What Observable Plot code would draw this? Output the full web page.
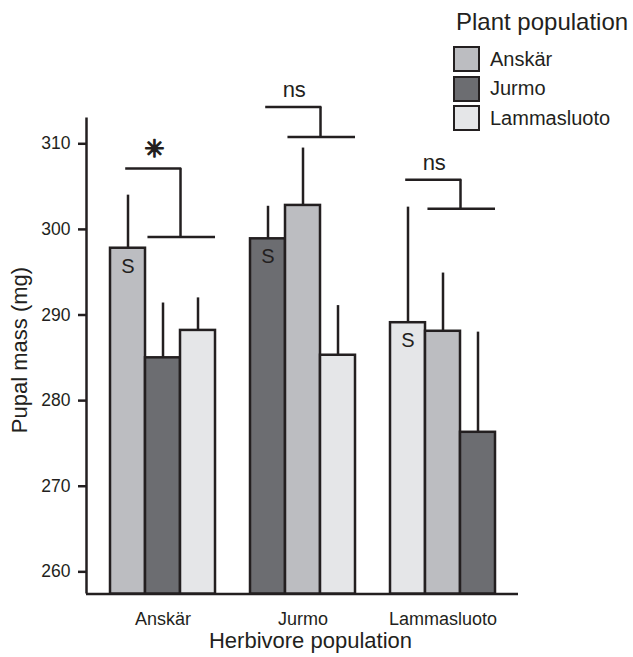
<!DOCTYPE html>
<html>
<head>
<meta charset="utf-8">
<script src="https://cdn.jsdelivr.net/npm/d3@7"></script>
<script src="https://cdn.jsdelivr.net/npm/@observablehq/plot@0.6"></script>
<style>
  html, body { margin: 0; padding: 0; background: #fff; }
  #wrap { position: relative; width: 633px; height: 657px; font-family: "Liberation Sans", Arial, sans-serif; color: #231f20; }
  #chart { position: absolute; left: 0; top: 0; }
  .ttl { position: absolute; white-space: nowrap; font-size: 22px; line-height: 22px; }
  #ytitle { left: -130px; top: 339px; width: 300px; text-align: center; transform: rotate(-90deg); }
  #xtitle { left: 0; top: 630px; width: 621px; text-align: center; }
  #legend { position: absolute; left: 453px; top: 10px; }
  #legend .lt { font-size: 24px; line-height: 24px; margin-left: 3px; margin-bottom: 10.5px; white-space: nowrap; }
  #legend .row { display: flex; align-items: center; height: 29.5px; }
  #legend .sw { box-sizing: border-box; width: 27px; height: 26px; border: 2.5px solid #231f20; margin-right: 10px; }
  #legend .lab { font-size: 20px; white-space: nowrap; }
</style>
</head>
<body>
<div id="wrap">
  <div id="chart"></div>
  <div id="ytitle" class="ttl"></div>
  <div id="xtitle" class="ttl"></div>
  <div id="legend"></div>
</div>
<script>
// ---- data ----
const herbivores = ["Anskär", "Jurmo", "Lammasluoto"];
const plants = ["Anskär", "Jurmo", "Lammasluoto"];
const plantColors = ["#bcbdc1", "#6c6d71", "#e5e6e8"];
// bars within each herbivore group, sympatric (S) first
const barPlant = [
  ["Anskär", "Jurmo", "Lammasluoto"],
  ["Jurmo", "Anskär", "Lammasluoto"],
  ["Lammasluoto", "Anskär", "Jurmo"]
];
const barMean = [
  [297.8, 285.0, 288.2],
  [298.9, 302.8, 285.3],
  [289.1, 288.1, 276.3]
];
const barUpper = [
  [304.0, 291.4, 292.0],
  [302.7, 309.5, 291.1],
  [302.6, 294.9, 288.0]
];
const bracketTop = [307.1, 314.3, 305.8];
const bracketLow = [299.1, 310.8, 302.4];
const bracketLabel = ["\u2733", "ns", "ns"];
const yTicks = [260, 270, 280, 290, 300, 310];
const yTitle = "Pupal mass (mg)";
const xTitle = "Herbivore population";
const legendTitle = "Plant population";

// ---- layout helpers ----
const ink = "#231f20";
const stride = 4;             // 3 bars + 1 bar-width gap per group
const yMin = 257.4, yMax = 313;
const xMin = -0.686, xMax = 11.657;

const bars = [];
herbivores.forEach((h, g) => barPlant[g].forEach((p, s) => {
  bars.push({herb: h, plant: p, g, s, mean: barMean[g][s], upper: barUpper[g][s], sym: s === 0});
}));
const bx = d => d.g * stride + d.s;
const brackets = herbivores.map((h, g) => ({g, top: bracketTop[g], low: bracketLow[g], label: bracketLabel[g]}));
const groupCenters = herbivores.map((h, g) => g * stride + 1.5);
const isStar = d => d.label === "\u2733";

const marks = [
  Plot.ruleX(bars, {x: d => bx(d) + 0.5, y1: "mean", y2: "upper", stroke: ink, strokeWidth: 2.5}),
  Plot.rect(bars, {x1: d => bx(d), x2: d => bx(d) + 1, y1: yMin, y2: "mean", fill: "plant", stroke: ink, strokeWidth: 2.5}),
  Plot.text(bars.filter(d => d.sym), {x: d => bx(d) + 0.5, y: "mean", text: () => "S", dy: 18, fontSize: 20, fill: ink}),
  Plot.ruleY(brackets, {x1: d => d.g * stride + 0.47, x2: d => d.g * stride + 2, y: "top", stroke: ink, strokeWidth: 2.5, strokeLinecap: "square"}),
  Plot.ruleX(brackets, {x: d => d.g * stride + 2, y1: "low", y2: "top", stroke: ink, strokeWidth: 2.5}),
  Plot.ruleY(brackets, {x1: d => d.g * stride + 1.07, x2: d => d.g * stride + 3, y: "low", stroke: ink, strokeWidth: 2.5}),
  Plot.text(brackets.filter(d => !isStar(d)), {x: d => d.g * stride + 1.25, y: "top", text: "label", lineAnchor: "bottom", dy: -9.5, fontSize: 22, fill: ink}),
  Plot.text(brackets.filter(isStar), {x: d => d.g * stride + 1.25, y: "top", text: "label", lineAnchor: "middle", dy: -19, fontSize: 24, fill: ink, stroke: ink, strokeWidth: 1.4, fontFamily: "DejaVu Sans"}),
  Plot.ruleX([xMin], {y1: yMin, y2: yMax, stroke: ink, strokeWidth: 2.5}),
  Plot.ruleY([yMin], {x1: xMin, x2: xMax, stroke: ink, strokeWidth: 2.5})
];

const opts = {
  width: 633,
  height: 657,
  marginTop: 117.6,
  marginBottom: 63.4,
  marginLeft: 86,
  marginRight: 115,
  x: {domain: [xMin, xMax]},
  y: {domain: [yMin, yMax]},
  color: {domain: plants, range: plantColors},
  style: {fontFamily: "Liberation Sans, Arial, sans-serif", color: ink, background: "#fff", overflow: "visible"},
  marks
};

if (Plot.axisY) {
  marks.push(Plot.axisY({ticks: yTicks, tickSize: 8, tickPadding: 8, fontSize: 17.5, strokeWidth: 2.5, stroke: ink, fill: ink, label: null}));
  marks.push(Plot.axisX({ticks: groupCenters, tickFormat: d => herbivores[Math.round((d - 1.5) / stride)], tickSize: 0, tickPadding: 18, fontSize: 18, fill: ink, label: null}));
} else {
  opts.x = {...opts.x, ticks: groupCenters, tickFormat: d => herbivores[Math.round((d - 1.5) / stride)], tickSize: 0, tickPadding: 18, label: null};
  opts.y = {...opts.y, ticks: yTicks, tickSize: 8, tickPadding: 8, label: null};
}

document.getElementById("chart").append(Plot.plot(opts));

document.getElementById("ytitle").textContent = yTitle;
document.getElementById("xtitle").textContent = xTitle;
const leg = document.getElementById("legend");
const lt = document.createElement("div");
lt.className = "lt";
lt.textContent = legendTitle;
leg.append(lt);
plants.forEach((p, i) => {
  const row = document.createElement("div");
  row.className = "row";
  const sw = document.createElement("div");
  sw.className = "sw";
  sw.style.background = plantColors[i];
  const lab = document.createElement("span");
  lab.className = "lab";
  lab.textContent = p;
  row.append(sw, lab);
  leg.append(row);
});
</script>
</body>
</html>
